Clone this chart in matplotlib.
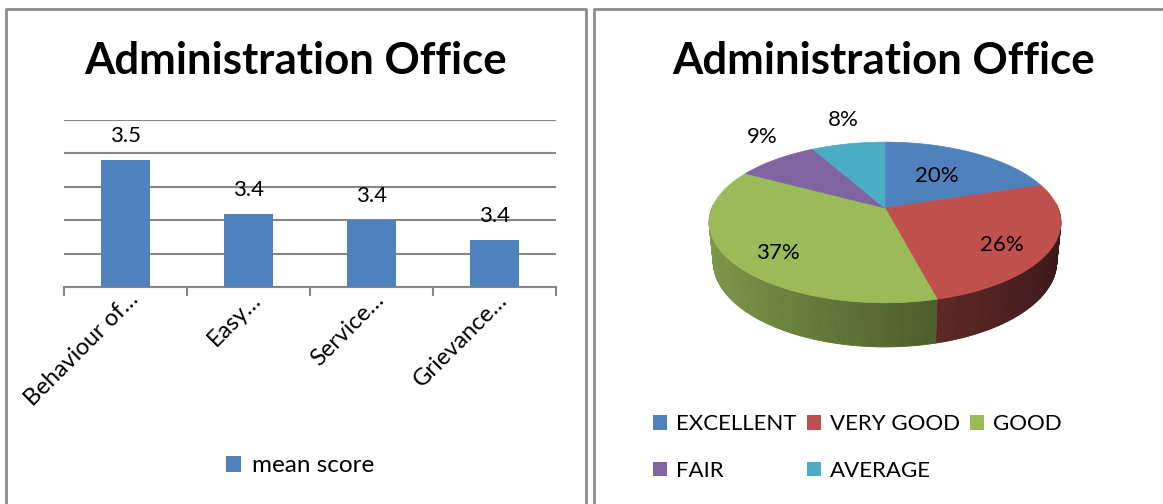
import numpy as np
import matplotlib
matplotlib.use('Agg')
import matplotlib.pyplot as plt
from matplotlib.patches import Polygon, Patch
from matplotlib.collections import PolyCollection

plt.rcParams['font.family'] = ['Lato', 'DejaVu Sans']

# -- mean score per item (bar chart)
categories = ['Behaviour of…', 'Easy…', 'Service…', 'Grievance…']
mean_scores = [3.49, 3.41, 3.40, 3.37]

# -- rating distribution in % (pie chart)
ratings = ['EXCELLENT', 'VERY GOOD', 'GOOD', 'FAIR', 'AVERAGE']
shares = [20, 26, 37, 9, 8]
pie_colors = ['#4f81bd', '#c0504d', '#9bbb59', '#8064a2', '#4bacc6']

W, H = 1163, 504
fig = plt.figure(figsize=(W / 100, H / 100), dpi=100)

# background layer in pixel units: panel frames + the 3D pie
bg = fig.add_axes([0, 0, 1, 1], zorder=0)
bg.set_xlim(0, W)
bg.set_ylim(H, 0)
bg.axis('off')

frame = dict(color='#8c8c8c', lw=2, solid_capstyle='butt')
bg.plot([6, 6, 586, 586], [H, 9, 9, H], **frame)
bg.plot([594, 594, W], [H, 9, 9], **frame)

for xc in (296, 884):
    fig.text(xc / W, 1 - 61 / H, 'Administration Office', ha='center', va='center',
             fontsize=31.5, fontweight='bold')

# ---------------- bar chart ----------------
ax = fig.add_axes([64 / W, 1 - 287 / H, 492 / W, 167 / H], zorder=1)
ax.patch.set_visible(False)
x = np.arange(len(categories))
bars = ax.bar(x, mean_scores, width=0.4, color='#4f81bd', zorder=3, label='mean score')
ax.set_xlim(-0.5, len(categories) - 0.5)
ax.set_ylim(3.3, 3.55)
ax.set_yticks(np.arange(3.3, 3.551, 0.05))
ax.yaxis.grid(True, color='#868686', lw=1.5)
ax.set_axisbelow(True)
ax.tick_params(axis='y', left=False, labelleft=False)
for s in ['top', 'right', 'left']:
    ax.spines[s].set_visible(False)
ax.spines['bottom'].set_color('#868686')
ax.spines['bottom'].set_linewidth(1.5)
ax.set_xticks(np.arange(-0.5, len(categories)))
ax.tick_params(axis='x', length=6.5, width=1.5, color='#868686', labelbottom=False)

ax.bar_label(bars, fmt='%.1f', padding=10, fontsize=16)
for i, name in enumerate(categories):
    ax.annotate(name, xy=(i, 0), xycoords=ax.get_xaxis_transform(),
                xytext=(10, -10), textcoords='offset points', rotation=45,
                ha='right', va='baseline', rotation_mode='anchor', fontsize=17)

ax.legend(loc='center', bbox_to_anchor=(300 / W, 1 - 466 / H), bbox_transform=fig.transFigure,
          frameon=False, handlelength=0.62, handleheight=0.62, handletextpad=0.45, fontsize=17.5)

# ---------------- 3D pie ----------------
cx, cy = 885, 208          # screen position of the pie centre
K = 173                    # radius in pixels
D = 4.97                   # camera distance (radius units)
tilt = np.radians(26.7)
C, S = np.cos(tilt), np.sin(tilt)
T = 0.255                  # thickness


def proj(u, v, h):
    s = D / (D + v * C - h * S)
    return cx + K * u * s, cy - K * (h * C + v * S) * s


fracs = np.array(shares) / np.sum(shares)
edges = 90 - 360 * np.concatenate([[0], np.cumsum(fracs)])

# side walls (front half only), drawn as thin strips for shading
strips, strip_cols, strip_depth = [], [], []
for i in range(len(shares)):
    a0, a1 = edges[i], edges[i + 1]
    angs = np.linspace(a0, a1, max(int(abs(a1 - a0)), 2) + 1)
    for p, q in zip(angs[:-1], angs[1:]):
        m = np.radians((p + q) / 2)
        if np.sin(m) > 0.05:
            continue
        pr, qr = np.radians(p), np.radians(q)
        quad = [proj(np.cos(pr), np.sin(pr), 0), proj(np.cos(qr), np.sin(qr), 0),
                proj(np.cos(qr), np.sin(qr), -T), proj(np.cos(pr), np.sin(pr), -T)]
        f = np.clip(0.56 - 0.27 * np.cos(m), 0.3, 0.9)
        rgb = np.array(matplotlib.colors.to_rgb(pie_colors[i])) * f
        strips.append(quad)
        strip_cols.append(rgb)
        strip_depth.append(np.sin(m))
order = np.argsort(strip_depth)[::-1]
bg.add_collection(PolyCollection([strips[k] for k in order],
                                 facecolors=[strip_cols[k] for k in order],
                                 edgecolors=[strip_cols[k] for k in order], linewidths=0.6))

# top face
for i in range(len(shares)):
    angs = np.radians(np.linspace(edges[i], edges[i + 1], 120))
    pts = [proj(0, 0, 0)] + [proj(np.cos(a), np.sin(a), 0) for a in angs]
    bg.add_patch(Polygon(pts, closed=True, facecolor=pie_colors[i],
                         edgecolor=pie_colors[i], lw=0.5))

# percentage labels
for i, val in enumerate(fracs):
    mid = np.radians((edges[i] + edges[i + 1]) / 2)
    if val >= 0.12:
        if np.sin(mid) > 0:
            lx, ly = proj(0.55 * np.cos(mid), 0.55 * np.sin(mid), 0)
        else:
            lx, ly = proj(0.72 * np.cos(mid), 0.72 * np.sin(mid), 0)
            ly += 8
    else:
        lx, ly = proj(1.15 * np.cos(mid), 1.15 * np.sin(mid), 0)
        ly -= 16
    bg.text(lx, ly, f'{val * 100:.0f}%', ha='center', va='center', fontsize=16)

# legend, filled row by row
handles = [Patch(facecolor=c, edgecolor='none', label=r) for r, c in zip(ratings, pie_colors)]
handles = [handles[k] for k in [0, 3, 1, 4, 2]]
bg.legend(handles=handles, ncol=3, loc='upper left', bbox_to_anchor=(653 / W, 1 - 414 / H),
          bbox_transform=fig.transFigure, frameon=False, borderpad=0, borderaxespad=0,
          handlelength=0.64, handleheight=0.64, handletextpad=0.4, columnspacing=0.45,
          labelspacing=1.2, fontsize=16)

fig.savefig('out.png', dpi=100)
